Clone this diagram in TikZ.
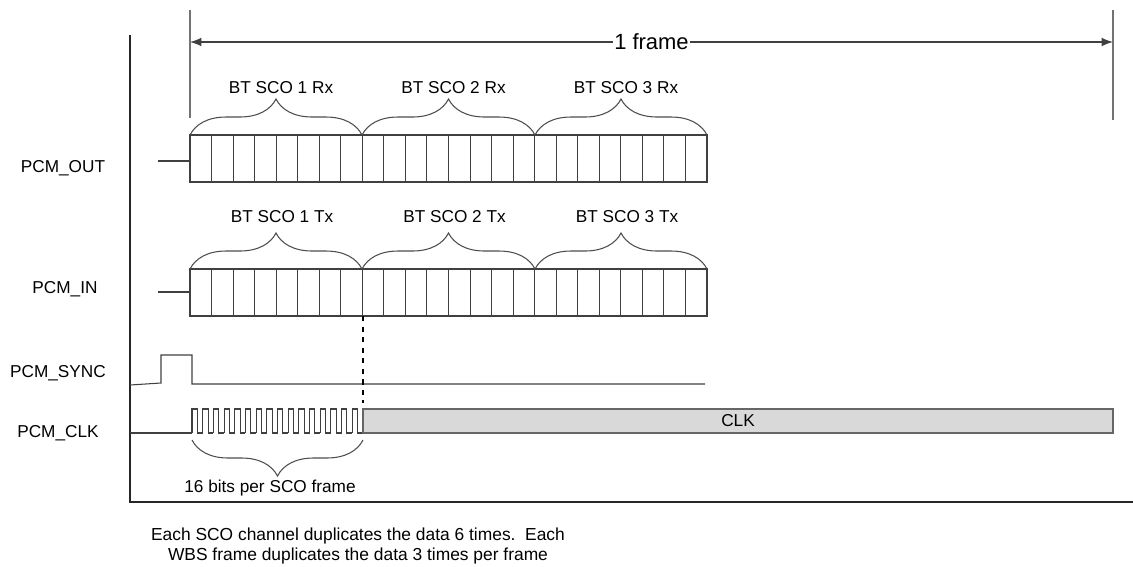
\documentclass[tikz,border=0pt]{standalone}
\usepackage{fontspec}
\setmainfont{Liberation Sans}
\usetikzlibrary{
    arrows.meta,
    positioning,
    decorations.pathreplacing
}

\begin{document}
\begin{tikzpicture}[
    x=0.02cm, y=-0.02cm,
    >={Latex[length=6.5pt, width=5pt]},
    sig/.style={line width=0.6pt, draw=black!75},
    cell/.style={line width=0.6pt, draw=black!75},
    axisline/.style={line width=1.3pt, draw=black!85},
    marker/.style={line width=0.7pt, draw=black!55},
    lab/.style={font=\fontsize{9.8}{12}\selectfont},
    sco/.style={decorate, decoration={brace, amplitude=0.72cm},
                line width=0.6pt, draw=black!70},
    clkbox/.style={fill=black!15, draw=black!60, line width=1pt}
]
\useasboundingbox (0,0) rectangle (1133,566);

% =========================
% 1) AXES AND FRAME MARKER
% =========================
\draw[axisline] (130,35) -- (130,502) -- (1133,502);
\coordinate (fl) at (190,42);
\coordinate (fr) at (1113,42);
\draw[marker] (190,10) -- (190,118);
\draw[marker] (1113,10) -- (1113,120);
\draw[<->, line width=0.7pt, black!75] (fl) -- (fr)
    node[midway, fill=white, inner sep=0.5pt, text=black,
         font=\fontsize{12.5}{14}\selectfont] (frame) {1 frame};

% =========================
% 2) SIGNAL NAMES
% =========================
\node[lab] (out)  at (63,168) {PCM\_OUT};
\node[lab] (in)   at (65,289) {PCM\_IN};
\node[lab] (sync) at (58,373) {PCM\_SYNC};
\node[lab] (clk)  at (58,433) {PCM\_CLK};

% =========================
% 3) PCM_OUT AND PCM_IN SLOTS
% =========================
\draw[sig] (158,161) -- (190,161);
\draw[cell] (190,135) rectangle (707,182);
\foreach \i in {1,...,23}
    \draw[cell] (190+21.5417*\i,135) -- ++(0,47);

\draw[sig] (158,292) -- (190,292);
\draw[cell] (190,269) rectangle (707,316);
\foreach \i in {1,...,23}
    \draw[cell] (190+21.5417*\i,269) -- ++(0,47);

\foreach \n/\xa/\xb in {1/190/362, 2/362/535, 3/535/707} {
    \draw[sco] (\xa,135) -- (\xb,135);
    \draw[sco] (\xa,269) -- (\xb,269);
    \node[lab] (rx\n) at ({(\xa+\xb)/2+5},88)  {BT SCO \n\ Rx};
    \node[lab] (tx\n) at ({(\xa+\xb)/2+6},217) {BT SCO \n\ Tx};
}

% =========================
% 4) PCM_SYNC AND PCM_CLK
% =========================
\draw[sig] (130,385) -- (161,383) -- (161,355) -- (192,355)
    -- (192,384) -- (705,384);

\draw[sig] (130,433) -- (192,433);
\foreach \i in {0,...,15}
    \draw[sig] (192+10.6875*\i,433) -- ++(0,-24) -- ++(5.34,0)
        -- ++(0,24) -- ++(5.35,0);
\draw[clkbox] (363,409) rectangle (1113,433);
\node[lab] (clkbox) at (738,421) {CLK};

\draw[dashed, line width=0.8pt] (363,316) -- (363,403);

\draw[sco] (363,440) -- (192,440);
\node[lab] (bits) at (270,488) {16 bits per SCO frame};

% Note below the chart
\node[font=\fontsize{9.9}{11.4}\selectfont, align=center] (note)
    at (358,546) {Each SCO channel duplicates the data 6 times.\ \ Each\\
                  WBS frame duplicates the data 3 times per frame};

\end{tikzpicture}
\end{document}
